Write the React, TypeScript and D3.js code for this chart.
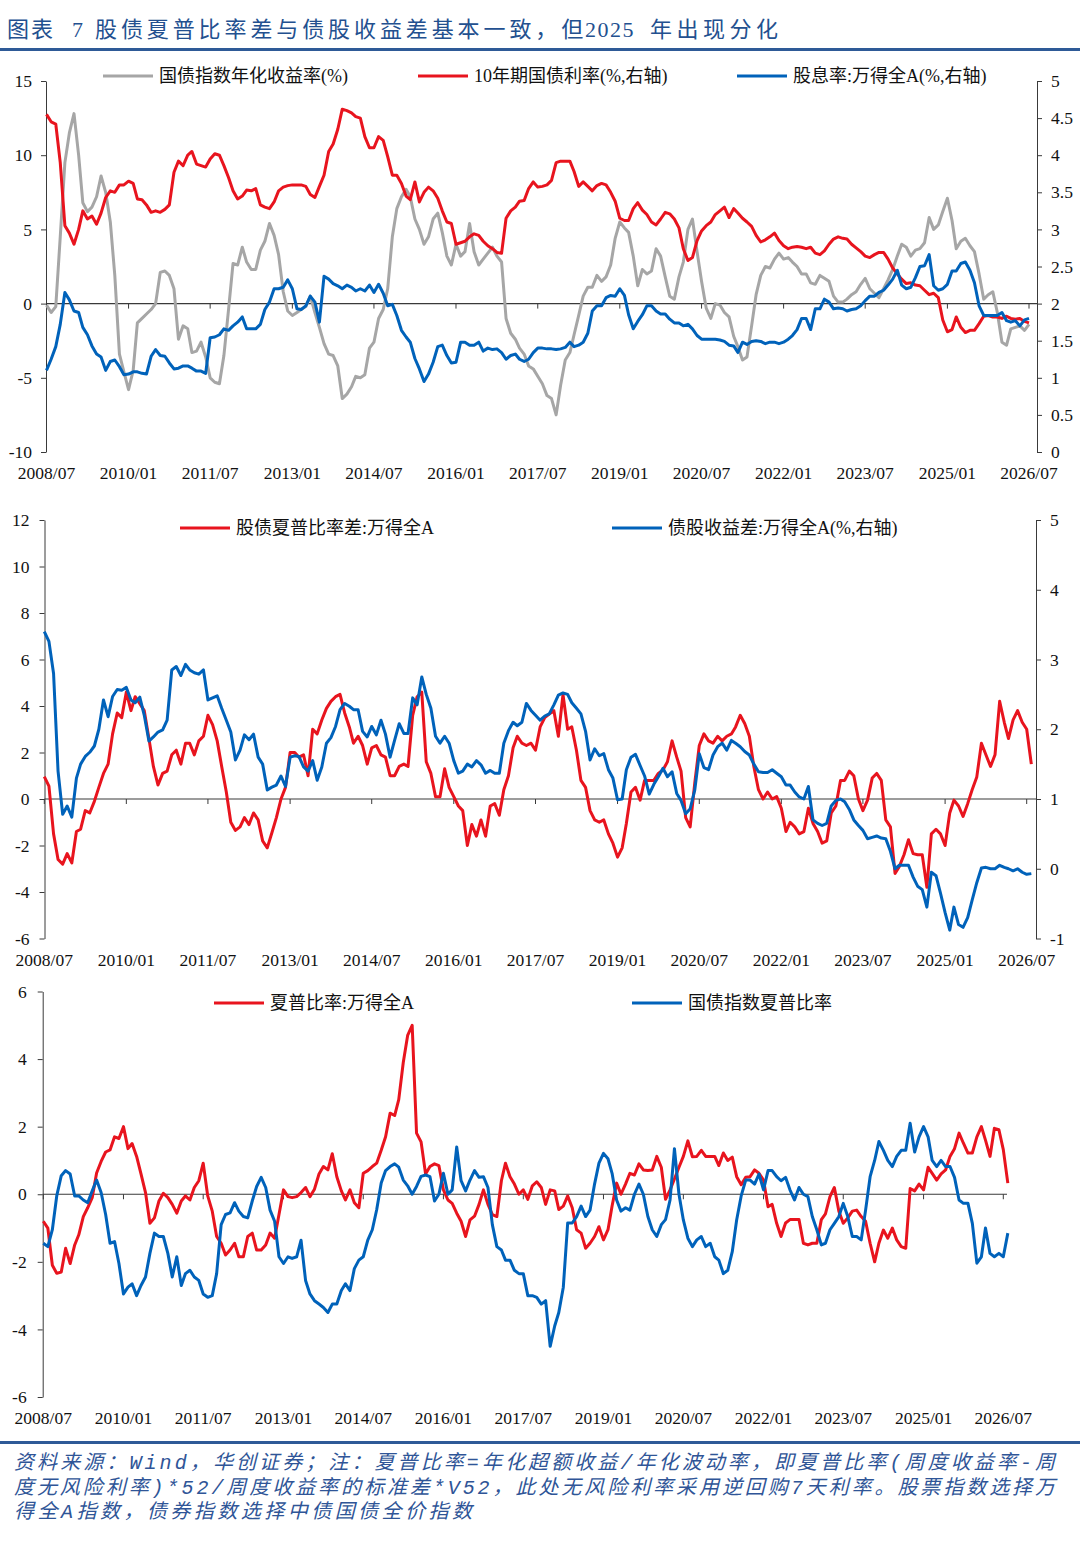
import { useEffect, useRef } from 'react';
import * as d3 from 'd3';

// 月度序列起点 2008/07
const START = new Date(2008, 6, 1);
const xTickLabels = ['2008/07', '2010/01', '2011/07', '2013/01', '2014/07', '2016/01', '2017/07',
    '2019/01', '2020/07', '2022/01', '2023/07', '2025/01', '2026/07'];

// 图一：国债指数年化收益率(%)，左轴
const bondIndexReturn = [
    -0.1, -0.6, -0.2, 4.5, 9.5, 11.5, 12.8, 10, 6.8, 6.2,
    6.5, 7.2, 8.6, 7.5, 5.5, 1.9, -3.4, -4.6, -5.8, -4.5,
    -1.3, -1, -0.7, -0.4, 0, 2.1, 2.2, 1.9, 1, -2.4,
    -1.5, -1.7, -3.3, -3.2, -2.6, -3.6, -5, -5.3, -5.4, -3.5,
    -0.4, 2.7, 2.6, 3.8, 2.8, 2.3, 2.3, 3.6, 4.2, 5.4,
    4.6, 3.3, 0.8, -0.5, -0.8, -0.6, -0.4, -0.2, 0.5, -0.6,
    -1.6, -2.7, -3.4, -3.5, -4.2, -6.4, -6.1, -5.6, -4.9, -5,
    -4.8, -3, -2.6, -1, -0.4, 1, 4.5, 6.4, 7.2, 7.7,
    7.2, 5.7, 5, 4, 4.5, 5.7, 6.1, 4.8, 3.2, 2.6,
    4, 3.2, 3.5, 5.4, 3.5, 2.6, 3, 3.4, 3.8, 3.2,
    2.8, -1, -2, -2.4, -3, -3.4, -4.2, -4.4, -4.9, -5.4,
    -6.2, -6.4, -7.5, -5.5, -3.8, -3.3, -2.1, -0.8, 0.5, 1.1,
    1.1, 1.9, 1.5, 1.8, 2.6, 4.4, 5.5, 5.1, 4.8, 3.2,
    1.2, 2.3, 2, 2.2, 3.7, 3.2, 1.8, 0.5, 0.3, 1.8,
    2.8, 5, 5.7, 3.5, 1.5, -0.3, -1, 0, -0.1, -0.6,
    -0.9, -2.2, -2.9, -3.8, -3.6, -1.5, 0.6, 1.9, 2.5, 2.4,
    3, 3.4, 3, 3.1, 2.8, 2.5, 2, 2, 1.4, 1.3,
    1.9, 1.7, 1.5, 0.5, 0.1, 0.1, 0.3, 0.6, 0.8, 1.3,
    1.7, 1, 0.7, 0.4, 1, 1.6, 2.3, 3.2, 4, 3.8,
    3.2, 3.6, 3.7, 4.1, 5.8, 5, 5.3, 6.2, 7.1, 5.6,
    3.7, 4.2, 4.4, 3.9, 3.5, 2, 0.3, 0.6, 0.8, -0.6,
    -2.6, -2.8, -1.7, -1.6, -1.5, -1.8, -1.4
];

// 图一：10年期国债利率(%)，右轴
const cgb10yYield = [
    4.55, 4.45, 4.42, 3.9, 3.05, 2.95, 2.8, 3.0, 3.25, 3.14,
    3.18, 3.07, 3.22, 3.43, 3.52, 3.5, 3.6, 3.6, 3.65, 3.62,
    3.41, 3.4, 3.33, 3.23, 3.25, 3.23, 3.27, 3.33, 3.77, 3.92,
    3.86, 4.0, 4.05, 3.88, 3.86, 3.84, 3.95, 4.02, 4.0, 3.86,
    3.7, 3.52, 3.41, 3.45, 3.53, 3.52, 3.55, 3.33, 3.3, 3.28,
    3.37, 3.52, 3.57, 3.59, 3.6, 3.6, 3.6, 3.58, 3.47, 3.43,
    3.58, 3.73, 4.05, 4.15, 4.35, 4.62, 4.6, 4.57, 4.52, 4.5,
    4.25, 4.1, 4.1, 4.25, 4.2, 3.98, 3.73, 3.73, 3.62, 3.45,
    3.4, 3.64, 3.37, 3.5, 3.57, 3.52, 3.42, 3.25, 3.1, 3.08,
    2.8, 2.82, 2.84, 2.9, 2.94, 2.92, 2.84, 2.78, 2.74, 2.69,
    2.68, 3.15, 3.25, 3.3, 3.38, 3.39, 3.55, 3.64, 3.57, 3.58,
    3.6, 3.66, 3.9, 3.92, 3.92, 3.92, 3.78, 3.58, 3.64, 3.58,
    3.52, 3.59, 3.62, 3.6, 3.5, 3.38, 3.15, 3.12, 3.12, 3.28,
    3.36, 3.26, 3.2, 3.1, 3.06, 3.14, 3.23, 3.21, 3.14, 3.02,
    2.74, 2.58, 2.62, 2.85, 2.98, 3.05, 3.1, 3.2, 3.25, 3.3,
    3.16, 3.28, 3.22, 3.15, 3.1, 3.04, 2.92, 2.83, 2.86, 2.9,
    2.95, 2.85, 2.78, 2.74, 2.76, 2.77, 2.76, 2.74, 2.76, 2.68,
    2.66, 2.71, 2.8, 2.87, 2.9, 2.88, 2.87, 2.8, 2.75, 2.7,
    2.64, 2.62, 2.66, 2.69, 2.69, 2.6, 2.48, 2.4, 2.33, 2.27,
    2.28, 2.25, 2.24, 2.18, 2.12, 2.14, 2.08, 1.78, 1.62, 1.65,
    1.82, 1.68, 1.61, 1.64, 1.64, 1.73, 1.83, 1.84, 1.82, 1.82,
    1.8, 1.83, 1.8, 1.79, 1.8, 1.76, 1.74
];

// 图一：股息率:万得全A(%)，右轴
const dividendYield = [
    1.1, 1.25, 1.42, 1.72, 2.15, 2.05, 1.9, 1.88, 1.68, 1.58,
    1.43, 1.32, 1.28, 1.1, 1.22, 1.24, 1.15, 1.04, 1.05, 1.08,
    1.08, 1.06, 1.05, 1.29, 1.38, 1.3, 1.29, 1.2, 1.12, 1.13,
    1.16, 1.16, 1.13, 1.09, 1.09, 1.06, 1.54, 1.55, 1.58, 1.66,
    1.64, 1.7, 1.75, 1.82, 1.66, 1.66, 1.66, 1.72, 1.92, 2.02,
    2.2, 2.2, 2.22, 2.32, 2.2, 1.93, 1.92, 1.97, 2.1, 2.02,
    1.75, 2.37, 2.33, 2.27, 2.24, 2.2, 2.25, 2.22, 2.17, 2.2,
    2.17, 2.25, 2.15, 2.26, 2.14, 1.97, 1.99, 1.84, 1.64, 1.55,
    1.48, 1.26, 1.12, 0.95, 1.05, 1.21, 1.42, 1.44, 1.3, 1.2,
    1.21, 1.48, 1.48, 1.44, 1.44, 1.48, 1.36, 1.4, 1.38, 1.39,
    1.34, 1.25, 1.3, 1.32, 1.25, 1.22, 1.25, 1.34, 1.4, 1.4,
    1.39, 1.39, 1.38, 1.39, 1.41, 1.48, 1.42, 1.44, 1.48, 1.6,
    1.9, 1.97, 1.97, 2.08, 2.11, 2.1, 2.2, 2.11, 1.85, 1.66,
    1.76, 1.85, 1.97, 1.97, 1.9, 1.86, 1.86, 1.79, 1.74, 1.74,
    1.7, 1.72, 1.66, 1.57, 1.52, 1.52, 1.52, 1.52, 1.51, 1.49,
    1.44, 1.43, 1.34, 1.48, 1.45, 1.49, 1.5, 1.49, 1.46, 1.48,
    1.48, 1.46, 1.48, 1.52, 1.57, 1.65, 1.8, 1.8, 1.65, 1.93,
    1.93, 2.06, 2.02, 1.93, 1.94, 1.93, 1.9, 1.92, 1.93, 1.97,
    2.04, 2.1, 2.1, 2.15, 2.18, 2.25, 2.33, 2.45, 2.25, 2.2,
    2.22, 2.35, 2.5, 2.51, 2.66, 2.24, 2.18, 2.2, 2.26, 2.44,
    2.44, 2.54, 2.56, 2.45, 2.28, 1.97, 1.84, 1.84, 1.84, 1.84,
    1.88, 1.77, 1.75, 1.77, 1.7, 1.78, 1.8
];

// 图二：股债夏普比率差:万得全A，左轴
const sharpeDiff = [
    0.96, 0.55, -1.5, -2.6, -2.8, -2.35, -2.75, -1.4, -1.3, -0.5,
    -0.6, -0.1, 0.5, 1.1, 1.5, 2.8, 3.7, 3.5, 4.6, 3.8,
    4.4, 4.1, 3.8, 2.6, 1.4, 0.6, 1.1, 1.2, 1.9, 2.1,
    1.5, 2.4, 2.4, 1.9, 2.5, 2.7, 3.6, 3.2, 2.5, 1.4,
    0.3, -1.0, -1.35, -1.2, -0.8, -1.1, -0.6, -0.9, -1.8, -2.1,
    -1.45, -0.8, 0, 0.5, 2.0, 2.0, 1.8, 1.9, 1.0, 3.0,
    2.8, 3.4, 3.9, 4.2, 4.4, 4.5, 3.7, 3.1, 2.4, 2.7,
    2.3, 1.5, 2.2, 2.3, 1.9, 1.8, 1.0, 1.0, 1.4, 1.5,
    1.4, 3.6, 4.4, 4.6, 1.6, 1.1, 0.1, 0.1, 1.3, 0.5,
    0.1, -0.3, -0.5, -2.0, -1.1, -1.6, -0.9, -1.6, -0.3, -0.2,
    -0.7, 0.4, 1.0, 2.2, 2.7, 2.4, 2.3, 2.4, 2.1, 3.1,
    3.5, 3.65, 3.8, 2.7, 4.5, 3.0, 3.1, 2.1, 0.8, 0.5,
    -0.5, -0.9, -1.0, -0.9, -1.5, -1.9, -2.5, -2.1, -1.05, 0.3,
    0.5, -0.05, 0.8, 0.8, 0.8, 1.1, 1.25, 1.6, 2.5, 1.8,
    1.2, -0.8, -1.2, 0.7, 2.3, 2.8, 2.5, 2.4, 2.7, 2.5,
    2.7, 2.8, 3.1, 3.6, 3.25, 2.7, 1.4, 0.4, 0.0, 0.3,
    0.0, 0.1, -0.4, -1.4, -1.0, -1.2, -1.5, -1.4, -0.4, -1.05,
    -1.4, -1.9, -1.8, -0.6, -0.3, 0.8, 0.8, 1.2, 1.0, 0.0,
    -0.5, -0.05, 0.9, 1.1, 0.8, -0.9, -1.2, -3.2, -2.9, -2.4,
    -1.75, -2.35, -2.4, -2.4, -3.8, -1.5, -1.3, -1.5, -2.0, -0.6,
    -0.05, -0.3, -0.75, -0.2, 0.4, 0.95, 2.4, 1.9, 1.4, 1.9,
    4.2, 3.3, 2.6, 3.4, 3.8, 3.3, 3.0, 1.5
];

// 图二：债股收益差:万得全A(%)，右轴
const yieldGap = [
    3.4, 3.26, 2.8, 1.4, 0.78, 0.9, 0.74, 1.3, 1.5, 1.61,
    1.67, 1.76, 2.0, 2.42, 2.18, 2.47, 2.57, 2.56, 2.6, 2.42,
    2.38, 2.46, 2.2, 1.83, 1.89, 1.96, 1.99, 2.13, 2.85, 2.9,
    2.77, 2.93, 2.85, 2.81, 2.79, 2.85, 2.42, 2.45, 2.48, 2.3,
    2.13, 1.96, 1.56, 1.7, 1.92, 1.85, 1.93, 1.6, 1.5, 1.13,
    1.17, 1.2, 1.33, 1.18, 1.6, 1.62, 1.61, 1.46, 1.4, 1.55,
    1.27, 1.46, 1.8, 1.88, 2.04, 2.28, 2.37, 2.33, 2.28, 2.28,
    1.97, 1.89, 2.04, 1.92, 2.13, 1.93, 1.6, 1.84, 2.08, 1.94,
    1.94, 2.45, 2.35, 2.75, 2.5, 2.3, 1.9, 1.8, 1.9, 1.8,
    1.55, 1.37, 1.4, 1.5, 1.46, 1.55, 1.49, 1.37, 1.41, 1.37,
    1.37, 1.8, 1.98, 2.1, 2.05, 2.1, 2.37, 2.27, 2.2, 2.13,
    2.19, 2.22, 2.35, 2.49, 2.52, 2.5, 2.38, 2.3, 2.22, 1.97,
    1.56, 1.72, 1.62, 1.65, 1.42, 1.3, 0.99, 1.0, 1.42, 1.6,
    1.64, 1.48, 1.33, 1.07, 1.21, 1.32, 1.44, 1.32, 1.39, 1.08,
    0.98, 0.79, 0.86, 1.13, 1.65, 1.45, 1.42, 1.63, 1.75, 1.8,
    1.7, 1.84, 1.8, 1.75, 1.68, 1.63, 1.5, 1.39, 1.38, 1.38,
    1.42, 1.37, 1.32, 1.2, 1.2, 1.1, 1.03, 1.0, 1.18, 0.7,
    0.65, 0.62, 0.65, 0.9, 0.98, 1.0, 0.96, 0.85, 0.7, 0.62,
    0.55, 0.43, 0.45, 0.47, 0.44, 0.43, 0.25, 0.0, 0.05, 0.05,
    0.05, -0.12, -0.25, -0.3, -0.55, -0.05, -0.1, -0.35, -0.63, -0.88,
    -0.55, -0.8, -0.84, -0.7, -0.45, -0.2, 0.01, 0.02, 0.0, 0.0,
    0.05, 0.02, 0.0, -0.03, 0.0, -0.05, -0.08, -0.07
];

// 图三：夏普比率:万得全A
const equitySharpe = [
    -0.8, -1.0, -2.1, -2.34, -2.3, -1.6, -2.05, -1.5, -1.2, -0.66,
    -0.4, -0.1, 0.63, 0.97, 1.25, 1.31, 1.7, 1.65, 2.0, 1.35,
    1.5, 1.12, 0.6, 0.05, -0.86, -0.7, -0.2, 0.03, -0.1, -0.3,
    -0.56, -0.2, -0.05, -0.17, 0.2, 0.4, 0.92, -0.05, -0.5, -1.25,
    -1.45, -1.8, -1.65, -1.45, -1.85, -1.85, -1.25, -1.15, -1.65, -1.65,
    -1.5, -1.15, -1.3, -0.6, 0.13, -0.07, -0.1, -0.07, 0.05, 0.2,
    -0.07, 0.15, 0.6, 0.82, 0.72, 1.2, 0.52, 0.1, -0.17, 0.13,
    -0.25, -0.4, 0.62, 0.7, 0.82, 0.92, 1.3, 1.7, 2.4, 2.33,
    2.8, 3.9, 4.7, 5.0, 1.81, 1.55, 0.6, 0.82, 0.9, 0.85,
    0.13, -0.17, -0.27, -0.56, -0.8, -1.25, -0.76, -0.65, -0.3, 0.13,
    -0.3, -0.6, -0.66, 0.4, 0.92, 0.52, 0.3, 0.0, 0.13, -0.15,
    0.25, 0.37, 0.2, -0.3, 0.13, 0.1, -0.45, -0.35, -0.05, -0.4,
    -1.05, -1.15, -1.6, -1.45, -1.25, -0.96, -1.35, -1.05, -0.35, 0.33,
    0.0, 0.3, 0.62, 0.57, 0.9, 0.72, 0.7, 0.72, 1.12, 0.8,
    -0.15, 0.13, 0.45, 0.8, 1.12, 1.58, 1.11, 1.12, 1.3, 1.12,
    1.12, 1.12, 0.85, 1.22, 1.0, 1.1, 0.52, 0.28, 0.5, 0.52,
    0.72, 0.62, 0.42, -0.37, -0.3, -0.86, -1.25, -0.85, -0.75, -0.75,
    -0.75, -1.45, -1.5, -1.45, -1.45, -0.75, -0.58, -0.07, 0.2, -0.5,
    -0.86, -0.7, -0.5, -0.47, -0.66, -0.8, -1.45, -2.0, -1.45, -1.06,
    -1.3, -1.0, -1.35, -1.55, -1.6, 0.17, 0.1, 0.3, 0.13, 0.8,
    0.62, 0.42, 0.6, 0.72, 1.12, 1.35, 1.81, 1.51, 1.22, 1.22,
    1.7, 2.0, 1.6, 1.12, 1.95, 1.91, 1.32, 0.33
];

// 图三：国债指数夏普比率
const bondSharpe = [
    -1.45, -1.55, -1.05, -0.05, 0.55, 0.7, 0.6, -0.05, -0.05, -0.17,
    -0.25, 0.1, 0.42, 0.05, -0.6, -1.45, -1.4, -2.05, -2.95, -2.75,
    -2.65, -3.0, -2.7, -2.45, -1.75, -1.15, -1.25, -1.25, -1.75, -2.45,
    -1.85, -2.7, -2.35, -2.25, -2.45, -2.55, -2.95, -3.05, -3.0, -2.35,
    -0.9, -0.6, -0.55, -0.25, -0.5, -0.66, -0.7, -0.2, 0.23, 0.5,
    0.2, -0.47, -0.8, -1.85, -2.05, -1.85, -1.9, -1.85, -1.36, -2.55,
    -2.95, -3.15, -3.25, -3.35, -3.5, -3.25, -3.25, -2.85, -2.65, -2.85,
    -2.2, -1.95, -1.85, -1.36, -1.05, -0.46, 0.33, 0.7, 0.82, 0.9,
    0.8, 0.42, 0.25, 0.0, 0.23, 0.53, 0.57, 0.52, -0.2, 0.0,
    0.62, 0.0, 0.13, 1.4, 0.4, 0.1, 0.42, 0.7, 0.5, 0.52,
    0.2, -0.9, -1.55, -1.65, -1.95, -1.95, -2.25, -2.35, -2.35, -3.0,
    -3.0, -3.05, -3.25, -3.15, -4.5, -3.9, -3.5, -2.75, -0.85, -0.85,
    -0.66, -0.35, -0.66, -0.47, 0.3, 0.92, 1.21, 1.05, 0.62, -0.17,
    -0.5, -0.4, -0.47, 0.0, 0.3, 0.0, -0.66, -1.05, -1.25, -0.9,
    -0.75, -0.17, 1.35, 0.0, -0.76, -1.3, -1.55, -1.35, -1.25, -1.55,
    -1.45, -1.85, -1.95, -2.35, -2.25, -1.7, -0.76, -0.05, 0.42, 0.42,
    0.3, 0.6, 0.13, 0.7, 0.7, 0.52, 0.4, 0.5, 0.13, -0.17,
    0.2, 0.0, -0.07, -0.66, -1.05, -1.5, -1.45, -1.05, -0.86, -0.66,
    -0.27, -0.66, -1.25, -1.25, -1.35, -0.47, 0.52, 1.0, 1.56, 1.3,
    1.0, 0.82, 1.12, 1.3, 1.3, 2.1, 1.25, 1.7, 2.0, 1.7,
    1.0, 0.82, 1.0, 0.82, 0.82, 0.5, -0.17, -0.27, -0.27, -0.86,
    -2.04, -1.85, -1.0, -1.75, -1.85, -1.75, -1.85, -1.15
];

const RED = '#E8141E';
const BLUE = '#0062BA';
const GRAY = '#A6A6A6';
const AXIS = '#3a3a3a';
const NAVY = '#23508F';
const FONT = '"Liberation Serif", "Noto Sans CJK SC", serif';
const NOTE_FONT = '"Liberation Mono", "Noto Sans CJK SC", monospace';

const parseMonth = d3.timeParse('%Y/%m');
const END = parseMonth('2026/07') as Date;

function drawPanel(svg: any, p: any) {
    const x = d3.scaleTime().domain([START, END]).range(p.xRange);
    const yL = d3.scaleLinear().domain(p.left.domain).range([p.bottom, p.top]);
    const yR = p.right ? d3.scaleLinear().domain(p.right.domain).range([p.bottom, p.top]) : null;
    const g = svg.append('g');

    // 左轴
    const la = g.append('g')
        .attr('transform', `translate(${p.left.x},0)`)
        .call(d3.axisLeft(yL).tickValues(p.left.ticks).tickSize(5).tickSizeOuter(0)
            .tickPadding(p.left.pad).tickFormat((d: any) => String(d)));
    la.select('.domain').attr('stroke', AXIS);
    la.selectAll('.tick line').attr('stroke', AXIS);
    la.selectAll('text').style('font-size', '17.5px').style('font-family', FONT).attr('fill', '#111');

    // 右轴
    if (yR) {
        const ra = g.append('g')
            .attr('transform', `translate(${p.right.x},0)`)
            .call(d3.axisRight(yR).tickValues(p.right.ticks).tickSize(5).tickSizeOuter(0)
                .tickPadding(9).tickFormat((d: any) => String(d)));
        ra.select('.domain').attr('stroke', AXIS);
        ra.selectAll('.tick line').attr('stroke', AXIS);
        ra.selectAll('text').style('font-size', '17.5px').style('font-family', FONT).attr('fill', '#111');
    }

    // 零线与日期刻度
    const y0 = yL(0);
    g.append('line')
        .attr('x1', p.left.x).attr('x2', p.zeroEnd)
        .attr('y1', y0).attr('y2', y0)
        .attr('stroke', AXIS).attr('stroke-width', 1.2);

    const tickDates = xTickLabels.map(s => parseMonth(s) as Date);
    g.selectAll('.xtick')
        .data(tickDates)
        .enter()
        .append('line')
        .attr('x1', (d: Date) => x(d)).attr('x2', (d: Date) => x(d))
        .attr('y1', y0).attr('y2', y0 + 5)
        .attr('stroke', AXIS);

    g.selectAll('.xlabel')
        .data(xTickLabels)
        .enter()
        .append('text')
        .attr('x', (d: string) => x(parseMonth(d) as Date))
        .attr('y', p.labelY)
        .attr('dy', '0.35em')
        .attr('text-anchor', 'middle')
        .style('font-size', '17.5px')
        .style('font-family', FONT)
        .attr('fill', '#111')
        .text((d: string) => d);

    // 折线
    p.series.forEach((s: any) => {
        const y = s.axis === 'right' ? yR : yL;
        const line = d3.line<number>()
            .x((_, i) => x(d3.timeMonth.offset(START, i)))
            .y(d => (y as any)(d));
        g.append('path')
            .datum(s.values)
            .attr('fill', 'none')
            .attr('stroke', s.color)
            .attr('stroke-width', 3)
            .attr('stroke-linejoin', 'round')
            .attr('d', line);
    });

    // 图例
    p.legend.forEach((l: any) => {
        g.append('line')
            .attr('x1', l.x).attr('x2', l.x + 50)
            .attr('y1', p.legendY).attr('y2', p.legendY)
            .attr('stroke', l.color).attr('stroke-width', 3);
        g.append('text')
            .attr('x', l.x + 56)
            .attr('y', p.legendY)
            .attr('dy', '0.35em')
            .style('font-size', '18px')
            .style('font-family', FONT)
            .attr('fill', '#111')
            .text(l.label);
    });
}

export default function App() {
    const svgRef = useRef<SVGSVGElement>(null);

    useEffect(() => {
        if (!svgRef.current) return;
        const svg = d3.select(svgRef.current);
        svg.selectAll('*').remove();

        svg.append('rect').attr('width', 1080).attr('height', 1560).attr('fill', '#fff');

        // 标题
        const title = svg.append('text')
            .attr('y', 37)
            .attr('fill', NAVY)
            .style('font-size', '22px')
            .style('font-family', FONT);
        title.append('tspan').attr('x', 7).style('letter-spacing', '2px').text('图表');
        title.append('tspan').attr('x', 72).text('7');
        title.append('tspan').attr('x', 95).style('letter-spacing', '3.9px').text('股债夏普比率差与债股收益差基本一致，但');
        title.append('tspan').attr('x', 585).style('letter-spacing', '1.5px').text('2025');
        title.append('tspan').attr('x', 650).style('letter-spacing', '4.5px').text('年出现分化');

        svg.append('rect').attr('x', 0).attr('y', 48).attr('width', 1080).attr('height', 3).attr('fill', '#2E5A97');

        // 图一
        drawPanel(svg, {
            xRange: [46.5, 1029],
            top: 81, bottom: 452,
            left: { x: 46, domain: [-10, 15], ticks: [-10, -5, 0, 5, 10, 15], pad: 9 },
            right: { x: 1037, domain: [0, 5], ticks: d3.range(0, 5.01, 0.5).map(v => +v.toFixed(1)) },
            zeroEnd: 1037,
            labelY: 473,
            legendY: 76,
            legend: [
                { label: '国债指数年化收益率(%)', color: GRAY, x: 103 },
                { label: '10年期国债利率(%,右轴)', color: RED, x: 418 },
                { label: '股息率:万得全A(%,右轴)', color: BLUE, x: 737 }
            ],
            series: [
                { values: bondIndexReturn, color: GRAY, axis: 'left' },
                { values: cgb10yYield, color: RED, axis: 'right' },
                { values: dividendYield, color: BLUE, axis: 'right' }
            ]
        });

        // 图二
        drawPanel(svg, {
            xRange: [44.3, 1026.7],
            top: 520, bottom: 938.5,
            left: { x: 44.5, domain: [-6, 12], ticks: d3.range(-6, 13, 2), pad: 10 },
            right: { x: 1036, domain: [-1, 5], ticks: d3.range(-1, 6, 1) },
            zeroEnd: 1036,
            labelY: 960,
            legendY: 528,
            legend: [
                { label: '股债夏普比率差:万得全A', color: RED, x: 180 },
                { label: '债股收益差:万得全A(%,右轴)', color: BLUE, x: 612 }
            ],
            series: [
                { values: sharpeDiff, color: RED, axis: 'left' },
                { values: yieldGap, color: BLUE, axis: 'right' }
            ]
        });

        // 图三
        drawPanel(svg, {
            xRange: [43.3, 1003.3],
            top: 991.5, bottom: 1397,
            left: { x: 42.7, domain: [-6, 6], ticks: d3.range(-6, 7, 2), pad: 11 },
            right: null,
            zeroEnd: 1007,
            labelY: 1418,
            legendY: 1003,
            legend: [
                { label: '夏普比率:万得全A', color: RED, x: 214 },
                { label: '国债指数夏普比率', color: BLUE, x: 632 }
            ],
            series: [
                { values: equitySharpe, color: RED, axis: 'left' },
                { values: bondSharpe, color: BLUE, axis: 'left' }
            ]
        });

        // 资料来源
        svg.append('rect').attr('x', 0).attr('y', 1441).attr('width', 1080).attr('height', 3).attr('fill', '#2E5A97');
        const notes = [
            { text: '资料来源：Wind，华创证券；注：夏普比率=年化超额收益/年化波动率，即夏普比率(周度收益率-周', y: 1469, len: 1041 },
            { text: '度无风险利率)*52/周度收益率的标准差*V52，此处无风险利率采用逆回购7天利率。股票指数选择万', y: 1494, len: 1041 },
            { text: '得全A指数，债券指数选择中债国债全价指数', y: 1518, len: 458 }
        ];
        svg.selectAll('.note')
            .data(notes)
            .enter()
            .append('text')
            .attr('x', 14)
            .attr('y', d => d.y)
            .attr('textLength', d => d.len)
            .attr('lengthAdjust', 'spacing')
            .style('font-size', '20px')
            .style('font-style', 'italic')
            .style('font-family', NOTE_FONT)
            .attr('fill', '#2F5597')
            .text(d => d.text);
    }, []);

    return (
        <div style={{ position: 'absolute', left: 0, top: 0 }}>
            <svg
                ref={svgRef}
                width={1080}
                height={1560}
                style={{ display: 'block' }}
            />
        </div>
    );
}
